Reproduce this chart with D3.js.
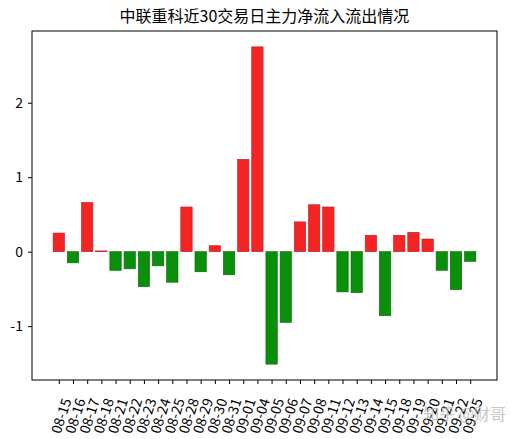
<!DOCTYPE html>
<html><head><meta charset="utf-8">
<script src="https://cdn.jsdelivr.net/npm/d3@7"></script>
<style>body{margin:0;background:#fff}</style>
</head><body>
<script>
const dates = ["08-15","08-16","08-17","08-18","08-21","08-22","08-23","08-24","08-25","08-28","08-29","08-30","08-31","09-01","09-04","09-05","09-06","09-07","09-08","09-11","09-12","09-13","09-14","09-15","09-18","09-19","09-20","09-21","09-22","09-25"];
const flows = [0.25,-0.15,0.66,0.01,-0.25,-0.23,-0.47,-0.19,-0.41,0.60,-0.27,0.08,-0.31,1.24,2.75,-1.51,-0.95,0.40,0.63,0.60,-0.54,-0.55,0.22,-0.86,0.22,0.26,0.17,-0.25,-0.51,-0.13];
const yTicks = [-1,0,1,2];
const title = "中联重科近30交易日主力净流入流出情况";
const watermark = "知乎 @财哥";

const W=511,H=439;
const L=32,R=497,T=31,B=380;
const svg=d3.select("body").append("svg").attr("width",W).attr("height",H);
const font="'Noto Sans CJK SC','Noto Sans',sans-serif";

const n=dates.length;
const x=d3.scaleLinear().domain([-0.4-0.05*(n-0.2), n-1+0.4+0.05*(n-0.2)]).range([L,R]);
const ymax=d3.max(flows), ymin=d3.min(flows), span=ymax-ymin;
const y=d3.scaleLinear().domain([ymin-0.05*span, ymax+0.05*span]).range([B,T]);

svg.append("text").attr("x",(L+R)/2).attr("y",22).attr("text-anchor","middle")
  .attr("font-family",font).attr("font-size",16).attr("fill","#000").text(title);

svg.append("g").selectAll("rect").data(flows).join("rect")
  .attr("x",(d,i)=>x(i-0.4)).attr("width",x(0.8)-x(0))
  .attr("y",d=>y(Math.max(0,d))).attr("height",d=>Math.max(0.8,Math.abs(y(d)-y(0))))
  .attr("fill",d=>d>=0?"#f42424":"#0a8f0a")
  .attr("stroke",d=>d>=0?"#c01818":"#066806").attr("stroke-width",0.6);

svg.append("rect").attr("x",L).attr("y",T).attr("width",R-L).attr("height",B-T)
  .attr("fill","none").attr("stroke","#000").attr("stroke-width",1);

const ya=svg.append("g").attr("transform",`translate(${L},0)`)
  .call(d3.axisLeft(y).tickValues(yTicks).tickSize(4).tickPadding(5).tickFormat(d=>String(d)));
ya.select(".domain").remove();
ya.selectAll("text").attr("font-family",font).attr("font-size",14).attr("fill","#000");
ya.selectAll("line").attr("stroke","#000");

const xa=svg.append("g").attr("transform",`translate(0,${B})`)
  .call(d3.axisBottom(x).tickValues(d3.range(n)).tickSize(4).tickFormat(i=>dates[i]));
xa.select(".domain").remove();
xa.selectAll("line").attr("stroke","#000");
xa.selectAll("text").attr("font-family",font).attr("font-size",14).attr("fill","#000")
  .attr("text-anchor","middle").attr("dy","0.35em")
  .attr("transform","translate(2,36) rotate(-72)").attr("x",0).attr("y",0);

svg.append("text").attr("x",506).attr("y",420).attr("text-anchor","end")
  .attr("font-family",font).attr("font-size",16).attr("fill","#bbb").attr("opacity",0.8).text(watermark);
</script>
</body></html>
